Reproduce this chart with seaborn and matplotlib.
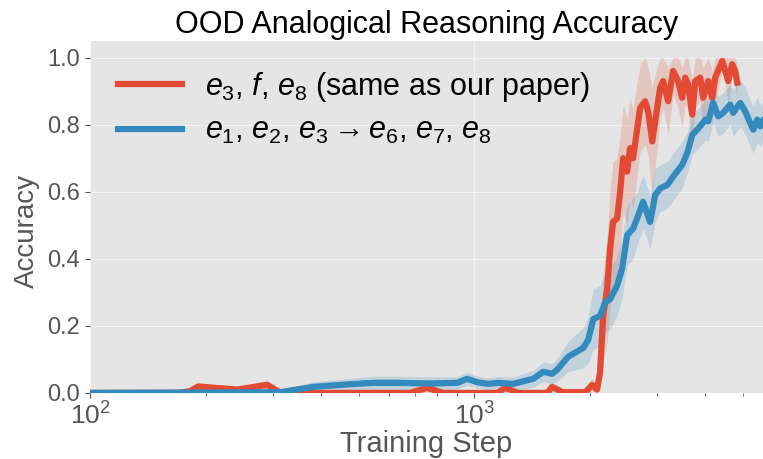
import numpy as np
import pandas as pd
import matplotlib
matplotlib.use("Agg")
import matplotlib.pyplot as plt
import seaborn as sns

RED = "#E24A33"
BLUE = "#348ABD"
GREY_TXT = "#555555"

# e3, f, e8 (same as our paper)
red_steps = [100, 170, 182, 191, 242, 289, 312, 330, 680, 755, 830, 1150, 1205, 1300,
             1550, 1596, 1700, 1950, 2027, 2089, 2127, 2167, 2220, 2260, 2300, 2356,
             2400, 2443, 2502, 2547, 2593, 2705, 2787, 2838, 2908, 2960, 3050, 3105,
             3200, 3297, 3396, 3480, 3543, 3608, 3697, 3764, 3878, 3948, 4067, 4166,
             4241, 4426, 4506, 4588, 4697, 4783, 4843]
red_acc = [0.0, 0.0, 0.005, 0.019, 0.010, 0.024, 0.002, 0.0, 0.0, 0.015, 0.0, 0.0, 0.015, 0.0,
           0.0, 0.018, 0.002, 0.002, 0.024, 0.010, 0.06, 0.23, 0.31, 0.43, 0.51, 0.52,
           0.60, 0.70, 0.66, 0.73, 0.70, 0.85, 0.87, 0.84, 0.75, 0.81, 0.91, 0.93,
           0.87, 0.96, 0.93, 0.88, 0.94, 0.92, 0.83, 0.93, 0.94, 0.88, 0.93, 0.88,
           0.94, 0.99, 0.96, 0.93, 0.98, 0.96, 0.925]
red_err = [0.0, 0.0, 0.004, 0.012, 0.006, 0.015, 0.003, 0.0, 0.0, 0.012, 0.0, 0.0, 0.010, 0.0,
           0.0, 0.012, 0.003, 0.004, 0.020, 0.015, 0.05, 0.13, 0.16, 0.18, 0.18, 0.18,
           0.17, 0.16, 0.16, 0.15, 0.15, 0.13, 0.13, 0.13, 0.16, 0.14, 0.09, 0.08,
           0.10, 0.07, 0.08, 0.09, 0.08, 0.08, 0.10, 0.08, 0.07, 0.09, 0.07, 0.08,
           0.07, 0.03, 0.04, 0.07, 0.03, 0.04, 0.06]

# e1, e2, e3 -> e6, e7, e8
blue_steps = [100, 312, 381, 476, 546, 630, 767, 903, 959, 1018, 1087, 1155, 1264, 1425,
              1513, 1596, 1645, 1757, 1922, 1982, 2042, 2127, 2193, 2260, 2356, 2427,
              2502, 2593, 2656, 2753, 2872, 2960, 3050, 3182, 3297, 3480, 3587, 3697,
              3810, 4000, 4067, 4191, 4318, 4448, 4642, 4724, 4929, 5078, 5233, 5333,
              5460, 5561, 5665, 5800]
blue_acc = [0.0, 0.002, 0.018, 0.026, 0.030, 0.030, 0.028, 0.030, 0.042, 0.032, 0.027, 0.030,
            0.027, 0.042, 0.063, 0.057, 0.069, 0.108, 0.134, 0.158, 0.22, 0.23, 0.27, 0.28,
            0.32, 0.37, 0.47, 0.49, 0.52, 0.57, 0.51, 0.59, 0.61, 0.62, 0.645, 0.68, 0.715,
            0.77, 0.785, 0.815, 0.81, 0.865, 0.825, 0.835, 0.86, 0.835, 0.865, 0.84, 0.805,
            0.785, 0.815, 0.795, 0.815, 0.80]
blue_err = [0.0, 0.004, 0.015, 0.018, 0.020, 0.020, 0.020, 0.018, 0.020, 0.018, 0.018, 0.020,
            0.020, 0.025, 0.030, 0.030, 0.035, 0.045, 0.06, 0.07, 0.09, 0.09, 0.09, 0.09,
            0.09, 0.09, 0.09, 0.09, 0.08, 0.08, 0.08, 0.08, 0.07, 0.07, 0.07, 0.07, 0.06,
            0.06, 0.06, 0.06, 0.06, 0.06, 0.06, 0.06, 0.06, 0.07, 0.07, 0.07, 0.07,
            0.07, 0.07, 0.06, 0.06, 0.06]

red_label = r"$e_3$, $f$, $e_8$ (same as our paper)"
blue_label = r"$e_1$, $e_2$, $e_3 \rightarrow e_6$, $e_7$, $e_8$"

plt.style.use("ggplot")
plt.rcParams["font.family"] = ["Liberation Sans", "DejaVu Sans"]
plt.rcParams["mathtext.fontset"] = "custom"
plt.rcParams["mathtext.rm"] = "Liberation Sans"
plt.rcParams["mathtext.it"] = "Liberation Sans:italic"

red_df = pd.DataFrame({"step": red_steps, "acc": red_acc, "err": red_err})
blue_df = pd.DataFrame({"step": blue_steps, "acc": blue_acc, "err": blue_err})

fig = plt.figure(figsize=(7.63, 4.59), dpi=100)
ax = fig.add_axes([0.118, 0.144, 0.882, 0.767])
ax.set_facecolor("#E5E5E5")

for df, color, label in [(red_df, RED, red_label), (blue_df, BLUE, blue_label)]:
    lo = np.clip(df["acc"] - df["err"], 0, 1)
    hi = np.clip(df["acc"] + df["err"], 0, 1)
    ax.fill_between(df["step"], lo, hi, color=color, alpha=0.2, linewidth=0)
    sns.lineplot(data=df, x="step", y="acc", color=color, linewidth=4.5, label=label, ax=ax)

ax.set_xscale("log")
ax.set_xlim(100, 5650)
ax.set_ylim(0, 1.05)
ax.set_yticks([0.0, 0.2, 0.4, 0.6, 0.8, 1.0])
ax.grid(True, color="white", linewidth=0.8, alpha=0.6)
ax.grid(False, which="minor")
ax.tick_params(axis="both", colors=GREY_TXT, labelsize=17, direction="out")
ax.tick_params(axis="x", labelsize=19)
ax.tick_params(axis="x", which="minor", colors=GREY_TXT)
for s in ax.spines.values():
    s.set_visible(False)

ax.set_title("OOD Analogical Reasoning Accuracy", fontsize=22, color="black", pad=6)
ax.set_xlabel("Training Step", fontsize=21, color=GREY_TXT, labelpad=0)
ax.set_ylabel("Accuracy", fontsize=20, color=GREY_TXT)
ax.yaxis.set_label_coords(-0.075, 0.46)

leg = ax.legend(loc="upper left", fontsize=22, frameon=False, handlelength=2.1,
                handletextpad=0.75, borderaxespad=0.25, labelspacing=0.42,
                bbox_to_anchor=(0.012, 0.975))
for t in leg.get_texts():
    t.set_color("black")

fig.savefig("out.png", dpi=100, facecolor="white")
